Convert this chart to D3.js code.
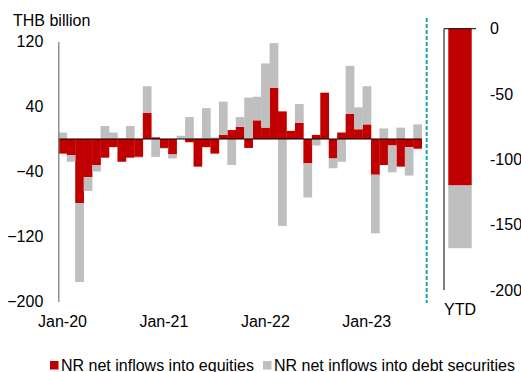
<!DOCTYPE html>
<html>
<head>
<meta charset="utf-8">
<script src="https://cdn.jsdelivr.net/npm/d3@7"></script>
<style>
  html, body { margin: 0; padding: 0; background: #fff; }
  svg { display: block; font-family: "Liberation Sans", Arial, sans-serif; }
</style>
</head>
<body>
<svg id="chart" width="521" height="372"></svg>
<script>
// Monthly categories, Jan 2020 – Jul 2023
const months = d3.timeMonth.range(new Date(2020, 0, 1), new Date(2023, 7, 1));

// Non-resident net inflows (THB billion)
const equities = [-18, -20, -79, -47, -32, -23, -10, -28, -23, -22, 32, 2,
                  -11, -19, 0, -4, -34, -10, -18, 5, 11, 15, -11, 23,
                  14, 63, 34, 10, 20, -30, 5, 57, -24, 8, 31, 12,
                  18, -44, -32, -8, -34, -10, -12];
const debt = [8, -8, -97, -17, -8, 16, 8, 1, 16, -1, 33, -22,
              -1, -5, 4, 27, 1, 38, 2, 41, -32, 12, 51, 29,
              79, 55, -107, 0, 23, -42, -8, 0, -12, -28, 59, 27,
              47, -72, 13, -33, 14, -35, 18];

// Year-to-date totals
const ytdCategory = ["YTD"];
const ytdEquities = [-120];
const ytdDebt = [-48];

// Tick labels
const yTicks = [120, 40, -40, -120, -200];
const ytdTicks = [0, -50, -100, -150, -200];
const xTickLabels = ["Jan-20", "Jan-21", "Jan-22", "Jan-23"];

const seriesNames = ["NR net inflows into equities", "NR net inflows into debt securities"];
const colors = ["#C00000", "#BFBFBF"];

const svg = d3.select("#chart");
const fmt = d3.timeFormat("%b-%y");

// ---- Main monthly panel ----
const x = d3.scaleBand().domain(months.map(fmt)).range([58.3, 421.7]).padding(0);
const y = d3.scaleLinear().domain([-200, 120]).range([301.5, 41.5]);

const rows = months.map((m, i) => ({ month: fmt(m), eq: equities[i], debt: debt[i] }));
const stacked = d3.stack().keys(["eq", "debt"]).offset(d3.stackOffsetDiverging)(rows);

svg.append("g")
  .selectAll("g")
  .data(stacked)
  .join("g")
  .attr("fill", (d, i) => colors[i])
  .selectAll("rect")
  .data(d => d)
  .join("rect")
  .attr("x", d => x(d.data.month))
  .attr("width", x.bandwidth() + 0.3)
  .attr("y", d => y(Math.max(d[0], d[1])))
  .attr("height", d => Math.abs(y(d[0]) - y(d[1])));

// Zero line
svg.append("line")
  .attr("x1", x.range()[0]).attr("x2", x.range()[1])
  .attr("y1", y(0)).attr("y2", y(0))
  .attr("stroke", "#000").attr("stroke-width", 1.2);

// Left value axis
const yAxis = svg.append("g")
  .attr("transform", `translate(${x.range()[0]},0)`)
  .call(d3.axisLeft(y).tickValues(yTicks).tickSize(0).tickPadding(15));
yAxis.select(".domain").attr("stroke", "#808080").attr("stroke-width", 1.3);
yAxis.selectAll("text").attr("font-size", 16).attr("fill", "#000")
  .attr("font-family", "Liberation Sans, Arial, sans-serif");

// Unit label
svg.append("text").attr("x", 13).attr("y", 26)
  .attr("font-size", 16).text("THB billion");

// Month labels
xTickLabels.forEach(lbl => {
  svg.append("text")
    .attr("x", x(lbl) + x.bandwidth() / 2)
    .attr("y", 326.5)
    .attr("text-anchor", "middle")
    .attr("font-size", 16)
    .text(lbl);
});

// Divider
svg.append("line")
  .attr("x1", 426.7).attr("x2", 426.7)
  .attr("y1", 18).attr("y2", 303)
  .attr("stroke", "#1AA5A5").attr("stroke-width", 2)
  .attr("stroke-dasharray", "4,2");

// ---- YTD panel ----
const x2 = d3.scaleBand().domain(ytdCategory).range([444, 476]).padding(0.155);
const y2 = d3.scaleLinear().domain([-200, 0]).range([290, 28.7]);

const ytdRows = ytdCategory.map((c, i) => ({ cat: c, eq: ytdEquities[i], debt: ytdDebt[i] }));
const ytdStack = d3.stack().keys(["eq", "debt"]).offset(d3.stackOffsetDiverging)(ytdRows);

svg.append("g")
  .selectAll("g")
  .data(ytdStack)
  .join("g")
  .attr("fill", (d, i) => colors[i])
  .selectAll("rect")
  .data(d => d)
  .join("rect")
  .attr("x", d => x2(d.data.cat))
  .attr("width", x2.bandwidth())
  .attr("y", d => y2(Math.max(d[0], d[1])))
  .attr("height", d => Math.abs(y2(d[0]) - y2(d[1])));

// YTD axis lines
svg.append("line")
  .attr("x1", x2.range()[0]).attr("x2", x2.range()[0])
  .attr("y1", y2(0)).attr("y2", y2(-200))
  .attr("stroke", "#000").attr("stroke-width", 1);
svg.append("line")
  .attr("x1", x2.range()[0]).attr("x2", x2.range()[1])
  .attr("y1", y2(0)).attr("y2", y2(0))
  .attr("stroke", "#000").attr("stroke-width", 1);

// YTD value labels
svg.append("g")
  .selectAll("text")
  .data(ytdTicks)
  .join("text")
  .attr("x", 490)
  .attr("y", d => y2(d))
  .attr("dy", "0.35em")
  .attr("font-size", 16)
  .text(d => d);

svg.append("text")
  .attr("x", x2("YTD") + x2.bandwidth() / 2)
  .attr("y", 315)
  .attr("text-anchor", "middle")
  .attr("font-size", 16)
  .text("YTD");

// ---- Legend ----
const legendX = [50, 263];
seriesNames.forEach((name, i) => {
  svg.append("rect")
    .attr("x", legendX[i]).attr("y", 361)
    .attr("width", 8.5).attr("height", 8.5)
    .attr("fill", colors[i]);
  svg.append("text")
    .attr("x", legendX[i] + 11).attr("y", 370.5)
    .attr("font-size", 16)
    .text(name);
});
</script>
</body>
</html>
